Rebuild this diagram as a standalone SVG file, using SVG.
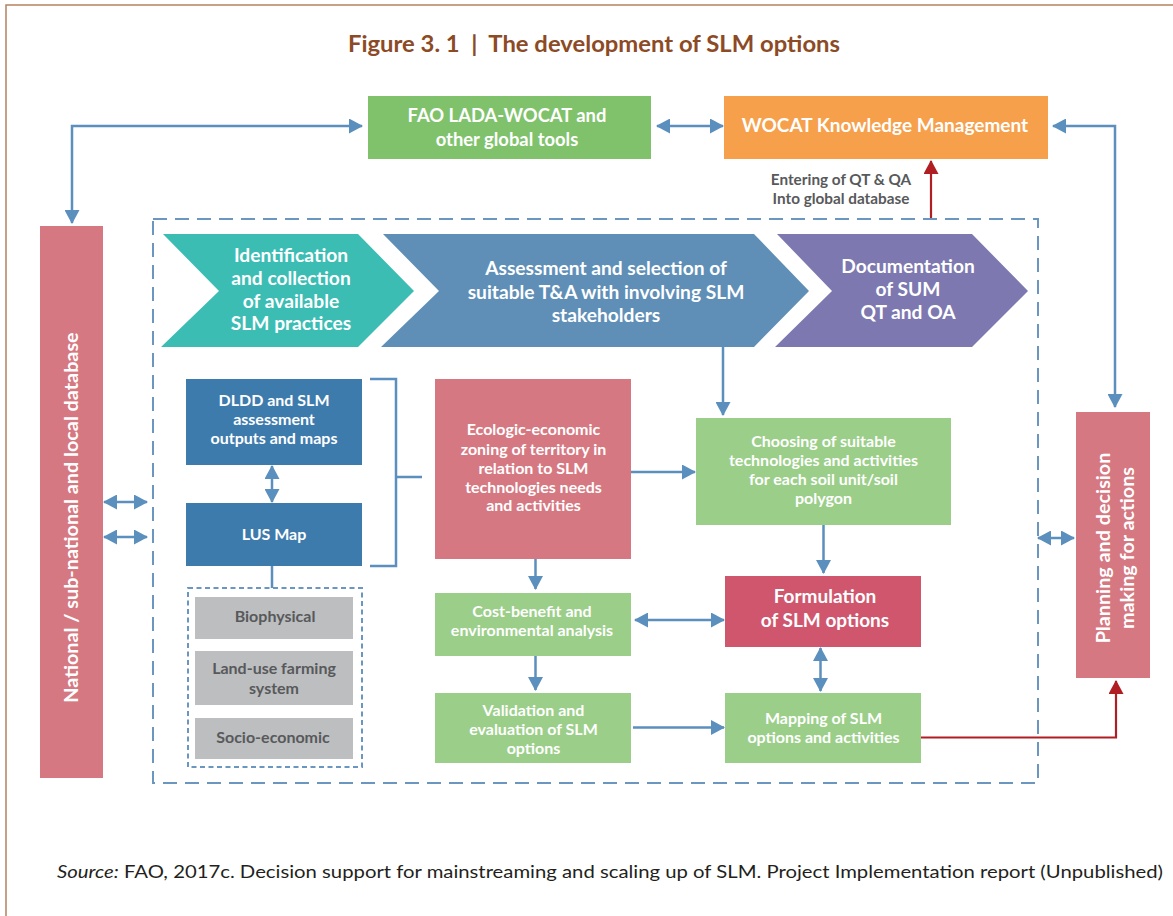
<svg xmlns="http://www.w3.org/2000/svg" width="1173" height="916" viewBox="0 0 1173 916">
  <style>
    text { font-family: Lato, "Open Sans", "Liberation Sans", sans-serif; font-weight: 700; text-anchor: middle; }
    .w { fill: #ffffff; }
    .g { fill: #58595b; }
    .title { fill: #8c4a25; font-size: 23.5px; }
    .top { font-size: 18.4px; }
    .wocat { font-size: 19px; }
    .chev { font-size: 19.2px; }
    .sm { font-size: 16px; }
    .md { font-size: 16px; }
    .lbl { font-size: 15.3px; }
    .big { font-size: 19px; }
    .side { font-size: 19.8px; }
    .link { fill: none; stroke: #5b8fbd; stroke-width: 2.5; }
    .red { fill: none; stroke: #b01e23; stroke-width: 2.2; }
    .frame { fill: none; stroke: #b5835f; stroke-width: 1.5; }
    .dash { fill: none; stroke: #6b96bf; stroke-width: 2; stroke-dasharray: 14 8; }
    .dash2 { fill: none; stroke: #6b96bf; stroke-width: 2; stroke-dasharray: 5 3.5; }
    .src { font-weight: 400; text-anchor: start; fill: #231f20; font-size: 18px; }
  </style>
  <defs>
    <marker id="ah" markerUnits="userSpaceOnUse" viewBox="0 0 14 15" refX="13" refY="7.5" markerWidth="14" markerHeight="15" orient="auto-start-reverse">
      <path d="M0,0 L14,7.5 L0,15 Z" fill="#5b8fbd"/>
    </marker>
    <marker id="ahr" markerUnits="userSpaceOnUse" viewBox="0 0 14 15" refX="13" refY="7.5" markerWidth="14" markerHeight="15" orient="auto-start-reverse">
      <path d="M0,0 L14,7.5 L0,15 Z" fill="#b01e23"/>
    </marker>
  </defs>

  <rect width="1173" height="916" fill="#ffffff"/>
  <path class="frame" d="M6,916 V5 H1173"/>

  <text class="title" x="594" y="52" textLength="492" lengthAdjust="spacingAndGlyphs">Figure 3. 1&#160;&#160;|&#160;&#160;The development of SLM options</text>

  <!-- dashed process frame -->
  <rect class="dash" x="153" y="219" width="885" height="564"/>
  <rect class="dash2" x="188" y="588" width="174" height="179"/>

  <g id="fao">
    <rect x="368" y="96" width="283" height="63" fill="#80c26c"/>
    <text class="w top" x="507" y="122">FAO LADA-WOCAT and</text>
    <text class="w top" x="507" y="146">other global tools</text>
  </g>

  <g id="wocat">
    <rect x="724" y="96" width="324" height="63" fill="#f7a04c"/>
    <text class="w wocat" x="885" y="132">WOCAT Knowledge Management</text>
  </g>

  <g id="entering-label">
    <text class="g lbl" x="841" y="185">Entering of QT &amp; QA</text>
    <text class="g lbl" x="841" y="204">Into global database</text>
  </g>

  <g id="national">
    <rect x="40" y="226" width="63" height="552" fill="#d67881"/>
    <text class="w side" transform="translate(78,517.5) rotate(-90)">National / sub-national and local database</text>
  </g>

  <g id="planning">
    <rect x="1076" y="412" width="74" height="266" fill="#d67881"/>
    <g transform="translate(1110,548) rotate(-90)">
      <text class="w side" x="0" y="0">Planning and decision</text>
      <text class="w side" x="0" y="23.5">making for actions</text>
    </g>
  </g>

  <g id="step-identification">
    <polygon points="163,234 358,234 414,291 358,347 161,347 219,291" fill="#3bbdb4"/>
    <text class="w chev" x="291" y="262">Identification</text>
    <text class="w chev" x="291" y="284.5">and collection</text>
    <text class="w chev" x="291" y="307.5">of available</text>
    <text class="w chev" x="291" y="330">SLM practices</text>
  </g>

  <g id="step-assessment">
    <polygon points="383,234 754,234 809,291 754,347 381,347 439,291" fill="#5f8fb7"/>
    <text class="w chev" x="606" y="275">Assessment and selection of</text>
    <text class="w chev" x="606" y="299">suitable T&amp;A with involving SLM</text>
    <text class="w chev" x="606" y="322">stakeholders</text>
  </g>

  <g id="step-documentation">
    <polygon points="777,234 972,234 1028,291 972,347 775,347 832,291" fill="#7d78b0"/>
    <text class="w chev" x="908" y="273">Documentation</text>
    <text class="w chev" x="908" y="295.5">of SUM</text>
    <text class="w chev" x="908" y="318.5">QT and OA</text>
  </g>

  <g id="dldd">
    <rect x="186" y="379" width="176" height="86" fill="#3e7bad"/>
    <text class="w md" x="274" y="406">DLDD and SLM</text>
    <text class="w md" x="274" y="425">assessment</text>
    <text class="w md" x="274" y="443.5">outputs and maps</text>
  </g>

  <g id="lus-map">
    <rect x="186" y="503" width="176" height="63" fill="#3e7bad"/>
    <text class="w md" x="274" y="540">LUS Map</text>
  </g>

  <g id="biophysical">
    <rect x="195" y="597" width="158" height="42" fill="#bcbec0"/>
    <text class="g md" x="275" y="622">Biophysical</text>
  </g>
  <g id="land-use">
    <rect x="195" y="651" width="158" height="54" fill="#bcbec0"/>
    <text class="g md" x="274" y="674">Land-use farming</text>
    <text class="g md" x="274" y="693.5">system</text>
  </g>
  <g id="socio-economic">
    <rect x="195" y="718" width="158" height="41" fill="#bcbec0"/>
    <text class="g md" x="273" y="743">Socio-economic</text>
  </g>

  <g id="zoning">
    <rect x="435" y="379" width="196" height="180" fill="#d67881"/>
    <text class="w sm" x="533.5" y="435">Ecologic-economic</text>
    <text class="w sm" x="533.5" y="454.5">zoning of territory in</text>
    <text class="w sm" x="533.5" y="473.5">relation to SLM</text>
    <text class="w sm" x="533.5" y="492.5">technologies needs</text>
    <text class="w sm" x="533.5" y="511">and activities</text>
  </g>

  <g id="choosing">
    <rect x="696" y="418" width="255" height="107" fill="#9bce89"/>
    <text class="w sm" x="823.5" y="447">Choosing of suitable</text>
    <text class="w sm" x="823.5" y="465.5">technologies and activities</text>
    <text class="w sm" x="823.5" y="484.5">for each soil unit/soil</text>
    <text class="w sm" x="823.5" y="503.5">polygon</text>
  </g>

  <g id="cost-benefit">
    <rect x="435" y="593" width="196" height="63" fill="#9bce89"/>
    <text class="w sm" x="532" y="617">Cost-benefit and</text>
    <text class="w sm" x="532" y="636">environmental analysis</text>
  </g>

  <g id="formulation">
    <rect x="725" y="576" width="196" height="71" fill="#d0566e"/>
    <text class="w big" x="825" y="603">Formulation</text>
    <text class="w big" x="825" y="627">of SLM options</text>
  </g>

  <g id="validation">
    <rect x="435" y="693" width="196" height="70" fill="#9bce89"/>
    <text class="w sm" x="533.5" y="716">Validation and</text>
    <text class="w sm" x="533.5" y="735">evaluation of SLM</text>
    <text class="w sm" x="533.5" y="753.5">options</text>
  </g>

  <g id="mapping">
    <rect x="725" y="693" width="196" height="70" fill="#9bce89"/>
    <text class="w sm" x="823.5" y="724">Mapping of SLM</text>
    <text class="w sm" x="823.5" y="742.5">options and activities</text>
  </g>

  <g id="connectors">
    <path class="link" d="M72,223 V126 H362" marker-start="url(#ah)" marker-end="url(#ah)"/>
    <path class="link" d="M657,126 H723" marker-start="url(#ah)" marker-end="url(#ah)"/>
    <path class="link" d="M1053,126 H1115 V407" marker-start="url(#ah)" marker-end="url(#ah)"/>
    <path class="red" d="M931,218 V161" marker-end="url(#ahr)"/>
    <path class="link" d="M104,502 H147" marker-start="url(#ah)" marker-end="url(#ah)"/>
    <path class="link" d="M104,537 H147" marker-start="url(#ah)" marker-end="url(#ah)"/>
    <path class="link" d="M272,466 V502" marker-start="url(#ah)" marker-end="url(#ah)"/>
    <path class="link" d="M272,566 V588"/>
    <path class="link" stroke-width="2" d="M370,379 H396 V566 H370 M396,477 H422"/>
    <path class="link" d="M723,347 V415" marker-end="url(#ah)"/>
    <path class="link" d="M631,472 H695" marker-end="url(#ah)"/>
    <path class="link" d="M535.5,559 V589" marker-end="url(#ah)"/>
    <path class="link" d="M823.5,525 V573" marker-end="url(#ah)"/>
    <path class="link" d="M635,620 H724" marker-start="url(#ah)" marker-end="url(#ah)"/>
    <path class="link" d="M820.5,648 V691" marker-start="url(#ah)" marker-end="url(#ah)"/>
    <path class="link" d="M535.5,656 V690" marker-end="url(#ah)"/>
    <path class="link" d="M633,727.5 H724" marker-end="url(#ah)"/>
    <path class="red" d="M921,737.5 H1116 V681" marker-end="url(#ahr)"/>
    <path class="link" d="M1038,538 H1074" marker-start="url(#ah)" marker-end="url(#ah)"/>
  </g>

  <text class="src" x="57" y="878" textLength="1106" lengthAdjust="spacingAndGlyphs"><tspan font-style="italic">Source:</tspan> FAO, 2017c. Decision support for mainstreaming and scaling up of SLM. Project Implementation report (Unpublished)</text>
</svg>
